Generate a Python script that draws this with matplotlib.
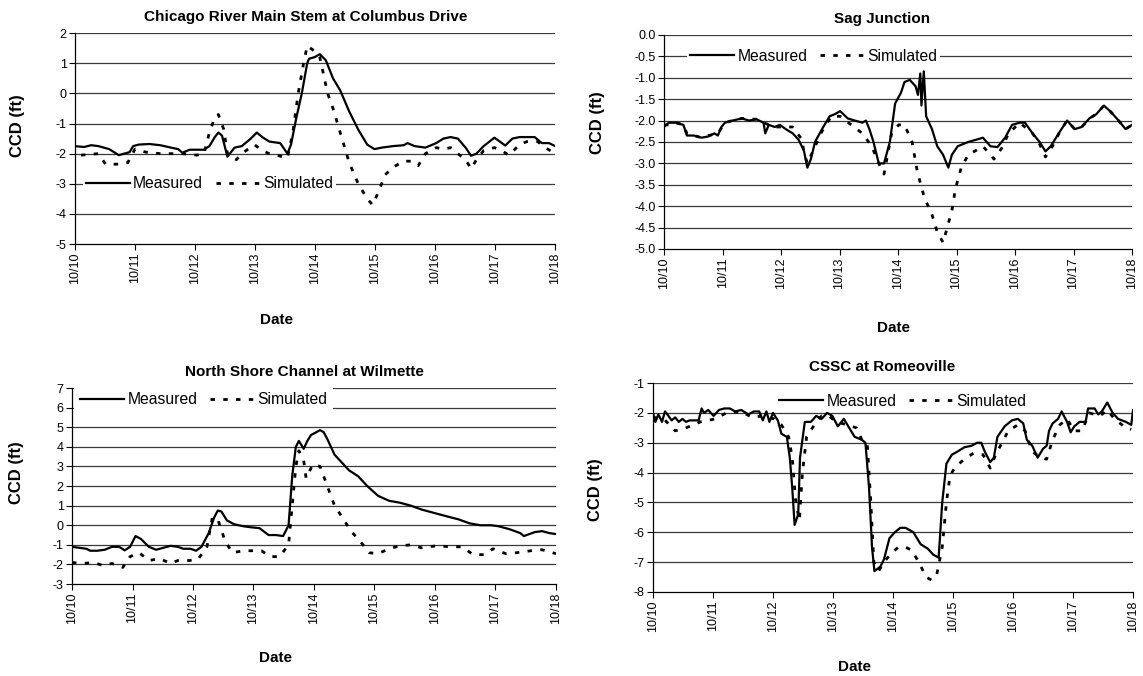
import matplotlib
matplotlib.use("Agg")
import matplotlib.pyplot as plt
from matplotlib.lines import Line2D

plt.rcParams["font.family"] = ["Liberation Sans", "DejaVu Sans"]

# x values are days after 10/10 00:00
date_labels = ["10/10", "10/11", "10/12", "10/13", "10/14", "10/15", "10/16", "10/17", "10/18"]

# --- Chicago River Main Stem at Columbus Drive ---
chi_meas_x = [0.0, 0.15, 0.27, 0.39, 0.57, 0.73, 0.82, 0.91, 0.97, 1.06, 1.24, 1.42, 1.60, 1.72,
              1.79, 1.91, 2.15, 2.24, 2.33, 2.39, 2.45, 2.54, 2.66, 2.78, 2.93, 3.03, 3.12, 3.24,
              3.42, 3.54, 3.60, 3.69, 3.78, 3.87, 3.90, 3.99, 4.08, 4.18, 4.30, 4.42, 4.57, 4.72,
              4.87, 4.99, 5.11, 5.30, 5.48, 5.54, 5.66, 5.84, 6.02, 6.14, 6.26, 6.38, 6.51, 6.60,
              6.69, 6.81, 6.99, 7.17, 7.29, 7.41, 7.53, 7.66, 7.78, 7.90, 8.0]
chi_meas_y = [-1.75, -1.78, -1.72, -1.75, -1.85, -2.05, -2.0, -1.95, -1.75, -1.7, -1.68, -1.72, -1.8,
              -1.85, -1.97, -1.87, -1.87, -1.75, -1.45, -1.3, -1.4, -2.1, -1.8, -1.75, -1.5, -1.3,
              -1.45, -1.6, -1.65, -2.0, -1.7, -0.8, 0.0, 1.0, 1.15, 1.2, 1.3, 1.1, 0.5, 0.1, -0.6,
              -1.2, -1.7, -1.85, -1.8, -1.75, -1.72, -1.65, -1.75, -1.8, -1.65, -1.5, -1.45, -1.5,
              -1.8, -2.07, -2.0, -1.75, -1.47, -1.73, -1.5, -1.45, -1.45, -1.45, -1.65, -1.65, -1.75]
chi_sim_x = [0.10, 0.39, 0.51, 0.70, 0.88, 1.00, 1.18, 1.42, 1.60, 1.79, 2.03, 2.15, 2.24, 2.33,
             2.39, 2.48, 2.54, 2.69, 2.78, 2.99, 3.12, 3.24, 3.36, 3.54, 3.63, 3.72, 3.81, 3.87,
             3.96, 4.08, 4.21, 4.30, 4.42, 4.57, 4.72, 4.87, 4.96, 5.05, 5.17, 5.30, 5.48, 5.60,
             5.72, 5.84, 6.02, 6.14, 6.26, 6.38, 6.51, 6.60, 6.69, 6.81, 6.99, 7.11, 7.23, 7.41,
             7.53, 7.71, 7.84, 8.0]
chi_sim_y = [-2.05, -2.0, -2.35, -2.35, -2.3, -1.85, -1.95, -2.0, -2.0, -2.0, -2.05, -2.0, -1.3,
             -0.8, -0.7, -1.2, -2.0, -2.2, -2.0, -1.7, -1.9, -2.0, -2.05, -2.15, -1.3, 0.0, 1.0,
             1.58, 1.45, 1.2, 0.0, -0.5, -1.3, -2.3, -3.0, -3.5, -3.7, -3.3, -2.7, -2.45, -2.25,
             -2.25, -2.4, -2.0, -1.8, -1.85, -1.8, -2.0, -2.2, -2.5, -2.2, -1.9, -1.8, -1.9, -2.05,
             -1.7, -1.6, -1.6, -1.8, -2.0]

# --- Sag Junction ---
sag_meas_x = [0.0, 0.08, 0.20, 0.33, 0.39, 0.51, 0.64, 0.76, 0.86, 0.92, 0.98, 1.04, 1.17, 1.33,
              1.45, 1.58, 1.70, 1.73, 1.79, 1.89, 1.98, 2.08, 2.20, 2.30, 2.39, 2.45, 2.51, 2.58,
              2.70, 2.83, 2.92, 3.01, 3.14, 3.26, 3.39, 3.45, 3.51, 3.58, 3.67, 3.76, 3.86, 3.95,
              4.05, 4.11, 4.20, 4.30, 4.34, 4.38, 4.40, 4.44, 4.48, 4.58, 4.67, 4.77, 4.86, 4.92,
              5.02, 5.20, 5.33, 5.45, 5.58, 5.70, 5.83, 5.95, 6.08, 6.17, 6.30, 6.42, 6.52, 6.61,
              6.77, 6.89, 7.02, 7.14, 7.27, 7.39, 7.52, 7.64, 7.77, 7.89, 8.0]
sag_meas_y = [-2.15, -2.05, -2.05, -2.1, -2.35, -2.35, -2.4, -2.37, -2.3, -2.35, -2.15, -2.05, -2.0,
              -1.95, -2.0, -1.97, -2.05, -2.3, -2.1, -2.15, -2.1, -2.2, -2.3, -2.45, -2.7, -3.1,
              -2.9, -2.5, -2.2, -1.9, -1.85, -1.78, -1.95, -2.0, -2.05, -2.0, -2.2, -2.5, -3.0,
              -3.0, -2.5, -1.6, -1.35, -1.1, -1.05, -1.2, -1.4, -0.9, -1.65, -0.85, -1.9, -2.2,
              -2.6, -2.8, -3.1, -2.8, -2.6, -2.5, -2.45, -2.4, -2.6, -2.62, -2.4, -2.1, -2.05,
              -2.05, -2.3, -2.5, -2.72, -2.6, -2.25, -2.0, -2.2, -2.15, -1.95, -1.85, -1.65, -1.8,
              -2.0, -2.2, -2.1]
sag_sim_x = [0.0, 0.08, 0.20, 0.33, 0.39, 0.51, 0.64, 0.76, 0.92, 1.04, 1.17, 1.33, 1.58, 1.70,
             1.89, 2.08, 2.20, 2.36, 2.39, 2.45, 2.70, 2.86, 3.01, 3.20, 3.39, 3.55, 3.67, 3.76,
             3.89, 4.01, 4.11, 4.24, 4.33, 4.45, 4.58, 4.67, 4.77, 4.86, 4.92, 4.98, 5.08, 5.20,
             5.33, 5.45, 5.58, 5.64, 5.77, 5.89, 6.08, 6.30, 6.42, 6.52, 6.64, 6.77, 6.89, 7.02,
             7.14, 7.27, 7.39, 7.52, 7.64, 7.77, 7.89, 8.0]
sag_sim_y = [-2.1, -2.1, -2.05, -2.1, -2.3, -2.35, -2.4, -2.35, -2.3, -2.05, -2.0, -1.95, -1.97,
             -2.05, -2.15, -2.15, -2.15, -2.45, -2.75, -3.0, -2.25, -1.9, -1.9, -2.1, -2.3, -2.6,
             -3.0, -3.25, -2.3, -2.1, -2.1, -2.5, -3.2, -3.8, -4.2, -4.6, -4.85, -4.4, -4.1, -3.6,
             -3.1, -2.8, -2.7, -2.6, -2.8, -2.9, -2.65, -2.3, -2.05, -2.3, -2.55, -2.85, -2.6,
             -2.25, -2.0, -2.2, -2.15, -1.95, -1.85, -1.65, -1.8, -2.0, -2.2, -2.1]

# --- North Shore Channel at Wilmette ---
nsc_meas_x = [0.0, 0.12, 0.24, 0.30, 0.42, 0.54, 0.66, 0.78, 0.87, 0.96, 1.05, 1.14, 1.27, 1.39,
              1.51, 1.63, 1.75, 1.84, 1.96, 2.05, 2.14, 2.26, 2.35, 2.41, 2.47, 2.56, 2.68, 2.83,
              2.95, 3.10, 3.25, 3.37, 3.49, 3.58, 3.64, 3.70, 3.75, 3.83, 3.89, 3.95, 4.04, 4.10,
              4.16, 4.22, 4.34, 4.46, 4.58, 4.73, 4.88, 5.06, 5.24, 5.42, 5.60, 5.78, 6.02, 6.20,
              6.39, 6.57, 6.75, 6.93, 7.05, 7.23, 7.41, 7.47, 7.65, 7.77, 7.89, 8.0]
nsc_meas_y = [-1.1, -1.15, -1.2, -1.3, -1.3, -1.25, -1.1, -1.1, -1.28, -1.1, -0.55, -0.7, -1.1,
              -1.25, -1.15, -1.05, -1.1, -1.2, -1.2, -1.3, -1.1, -0.4, 0.4, 0.75, 0.7, 0.25, 0.05,
              -0.05, -0.1, -0.15, -0.5, -0.5, -0.55, 0.0, 2.5, 4.0, 4.3, 3.9, 4.3, 4.6, 4.75, 4.85,
              4.75, 4.4, 3.6, 3.2, 2.8, 2.5, 2.0, 1.5, 1.25, 1.15, 1.0, 0.8, 0.6, 0.45, 0.3, 0.1,
              0.0, 0.0, -0.05, -0.2, -0.4, -0.55, -0.35, -0.3, -0.4, -0.45]
nsc_sim_x = [0.0, 0.18, 0.36, 0.51, 0.66, 0.84, 0.96, 1.11, 1.27, 1.45, 1.63, 1.75, 1.93, 2.08,
             2.23, 2.32, 2.41, 2.53, 2.65, 2.83, 3.01, 3.13, 3.28, 3.43, 3.58, 3.64, 3.70, 3.75,
             3.83, 3.87, 3.98, 4.10, 4.22, 4.34, 4.49, 4.61, 4.76, 4.91, 5.06, 5.24, 5.42, 5.60,
             5.78, 6.02, 6.27, 6.45, 6.63, 6.81, 6.96, 7.17, 7.35, 7.59, 7.77, 8.0]
nsc_sim_y = [-1.9, -1.95, -1.9, -2.05, -1.95, -2.15, -1.6, -1.4, -1.8, -1.7, -1.95, -1.8, -1.8,
             -1.75, -1.1, 0.4, 0.3, -0.8, -1.4, -1.3, -1.3, -1.3, -1.6, -1.6, -1.0, 1.0, 3.0, 3.8,
             3.3, 2.4, 3.1, 3.0, 2.0, 1.0, 0.3, -0.3, -0.8, -1.4, -1.45, -1.2, -1.05, -1.0, -1.15,
             -1.05, -1.1, -1.1, -1.5, -1.5, -1.2, -1.45, -1.4, -1.3, -1.25, -1.45]

# --- CSSC at Romeoville ---
cssc_meas_x = [0.0, 0.04, 0.09, 0.15, 0.20, 0.24, 0.31, 0.37, 0.43, 0.49, 0.55, 0.61, 0.76, 0.81,
               0.85, 0.92, 1.01, 1.10, 1.19, 1.28, 1.37, 1.47, 1.59, 1.68, 1.77, 1.83, 1.89, 1.94,
               2.00, 2.08, 2.14, 2.23, 2.28, 2.32, 2.36, 2.42, 2.45, 2.53, 2.63, 2.72, 2.81, 2.90,
               2.99, 3.08, 3.18, 3.27, 3.36, 3.48, 3.54, 3.60, 3.65, 3.69, 3.79, 3.85, 3.94, 4.03,
               4.12, 4.21, 4.34, 4.46, 4.58, 4.67, 4.76, 4.82, 4.89, 4.98, 5.07, 5.19, 5.31, 5.40,
               5.47, 5.53, 5.62, 5.68, 5.74, 5.86, 5.98, 6.08, 6.17, 6.23, 6.32, 6.41, 6.50, 6.56,
               6.60, 6.66, 6.75, 6.81, 6.90, 6.96, 7.02, 7.11, 7.21, 7.25, 7.36, 7.42, 7.48, 7.57,
               7.66, 7.75, 7.88, 7.97, 8.0]
cssc_meas_y = [-2.0, -2.3, -2.05, -2.3, -1.95, -2.05, -2.25, -2.15, -2.3, -2.2, -2.3, -2.25, -2.25,
               -1.85, -2.0, -1.9, -2.1, -1.9, -1.85, -1.85, -1.95, -1.9, -2.05, -1.95, -1.95,
               -2.25, -1.95, -2.3, -2.0, -2.25, -2.7, -2.8, -3.5, -4.5, -5.75, -5.4, -3.5, -2.3,
               -2.3, -2.1, -2.2, -2.0, -2.1, -2.45, -2.2, -2.5, -2.8, -2.9, -3.0, -4.5, -6.5, -7.3,
               -7.15, -6.9, -6.2, -6.0, -5.85, -5.85, -6.0, -6.4, -6.55, -6.75, -6.85, -5.0, -3.7,
               -3.4, -3.3, -3.15, -3.1, -3.0, -3.0, -3.3, -3.65, -3.5, -2.8, -2.45, -2.25, -2.2,
               -2.35, -2.9, -3.1, -3.5, -3.2, -3.1, -2.6, -2.35, -2.2, -1.95, -2.3, -2.65, -2.45,
               -2.3, -2.3, -1.85, -1.85, -2.05, -1.95, -1.65, -2.0, -2.2, -2.3, -2.4, -1.9]
cssc_sim_x = [0.0, 0.18, 0.37, 0.55, 0.79, 1.04, 1.22, 1.47, 1.65, 1.83, 2.02, 2.14, 2.26, 2.32,
              2.38, 2.44, 2.49, 2.56, 2.69, 2.81, 2.93, 3.05, 3.24, 3.39, 3.48, 3.57, 3.63, 3.68,
              3.76, 3.85, 3.97, 4.09, 4.21, 4.31, 4.43, 4.55, 4.64, 4.73, 4.82, 4.89, 4.95, 5.04,
              5.19, 5.34, 5.50, 5.62, 5.71, 5.83, 5.92, 6.08, 6.20, 6.32, 6.47, 6.56, 6.66, 6.78,
              6.90, 7.02, 7.15, 7.27, 7.45, 7.57, 7.69, 7.88, 7.97]
cssc_sim_y = [-2.15, -2.2, -2.6, -2.5, -2.3, -2.2, -2.0, -1.95, -2.15, -2.1, -2.2, -2.4, -2.8, -3.5,
              -5.0, -5.6, -4.0, -2.8, -2.4, -2.1, -2.1, -2.3, -2.4, -2.5, -2.9, -3.0, -5.0, -7.0,
              -7.3, -7.0, -6.7, -6.5, -6.5, -6.6, -7.0, -7.5, -7.6, -7.4, -6.5, -5.0, -4.1, -3.8,
              -3.55, -3.35, -3.4, -3.85, -3.4, -2.95, -2.6, -2.4, -2.6, -3.3, -3.5, -3.55, -2.9,
              -2.4, -2.2, -2.6, -2.6, -2.0, -2.1, -1.9, -2.2, -2.5, -2.55]

panels = [
    # title, measured x/y, simulated x/y, y ticks, tick format, axes rect, legend center,
    # legend pad, ylabel pos, xlabel pos, title x
    ("Chicago River Main Stem at Columbus Drive", chi_meas_x, chi_meas_y, chi_sim_x, chi_sim_y,
     [-5, -4, -3, -2, -1, 0, 1, 2], "{:.0f}", [0.0656, 0.639, 0.420, 0.312],
     (0.28, 0.286), 0.2, (-0.119, 0.56), (0.42, -0.36), 0.48),
    ("Sag Junction", sag_meas_x, sag_meas_y, sag_sim_x, sag_sim_y,
     [-5.0, -4.5, -4.0, -3.5, -3.0, -2.5, -2.0, -1.5, -1.0, -0.5, 0.0], "{:.1f}",
     [0.581, 0.6317, 0.4094, 0.3166], (0.32, 0.90), 0.2, (-0.143, 0.59), (0.49, -0.37), 0.466),
    ("North Shore Channel at Wilmette", nsc_meas_x, nsc_meas_y, nsc_sim_x, nsc_sim_y,
     [-3, -2, -1, 0, 1, 2, 3, 4, 5, 6, 7], "{:.0f}", [0.063, 0.136, 0.4234, 0.290],
     (0.272, 0.94), 0.4, (-0.114, 0.57), (0.42, -0.378), 0.48),
    ("CSSC at Romeoville", cssc_meas_x, cssc_meas_y, cssc_sim_x, cssc_sim_y,
     [-8, -7, -6, -5, -4, -3, -2, -1], "{:.0f}", [0.5713, 0.1243, 0.420, 0.309],
     (0.52, 0.912), 0.05, (-0.119, 0.49), (0.42, -0.36), 0.477),
]

dot_style = (0, (1.6, 3.0))

fig = plt.figure(figsize=(11.43, 6.76), dpi=100)

for (title, mx, my, sx, sy, yticks, fmt, rect, leg_c, leg_pad,
     ylab_c, xlab_c, title_x) in panels:
    ax = fig.add_axes(rect)
    ax.plot(mx, my, color="black", lw=1.6, solid_joinstyle="round", zorder=3)
    ax.plot(sx, sy, color="black", lw=2.0, linestyle=dot_style, zorder=3)

    ax.set_xlim(0, 8)
    ax.set_ylim(yticks[0], yticks[-1])
    ax.set_xticks(range(9))
    ax.set_xticklabels(date_labels, rotation=90, fontsize=9)
    ax.set_yticks(yticks)
    ax.set_yticklabels([fmt.format(v) for v in yticks], fontsize=9)
    ax.tick_params(direction="out", length=4, width=0.8, pad=2)

    for v in yticks[1:]:
        ax.axhline(v, color="#3a3a3a", lw=0.9, zorder=1)

    for side in ("top", "right"):
        ax.spines[side].set_visible(False)
    for side in ("left", "bottom"):
        ax.spines[side].set_linewidth(0.9)
        ax.spines[side].set_zorder(4)

    ax.text(title_x, 1 + 16 / (rect[3] * 676), title, transform=ax.transAxes,
            ha="center", va="center", fontsize=11, fontweight="bold")
    ax.set_ylabel("CCD (ft)", fontsize=12, fontweight="bold", va="center")
    ax.yaxis.set_label_coords(*ylab_c)
    ax.set_xlabel("Date", fontsize=11, fontweight="bold", va="center")
    ax.xaxis.set_label_coords(*xlab_c)

    handles = [Line2D([], [], color="black", lw=1.6),
               Line2D([], [], color="black", lw=2.0, linestyle=dot_style)]
    leg = ax.legend(handles, ["Measured", "Simulated"], loc="center",
                    bbox_to_anchor=leg_c, ncol=2, fontsize=11.3, frameon=True,
                    handlelength=2.8, handletextpad=0.2, columnspacing=0.8,
                    borderpad=leg_pad, borderaxespad=0)
    leg.get_frame().set_facecolor("white")
    leg.get_frame().set_edgecolor("none")
    leg.get_frame().set_alpha(1.0)
    leg.get_frame().set_boxstyle("square", pad=0)
    # keep the legend box under the axis spine but over the gridlines
    leg.set_zorder(2.2)

fig.savefig("out.png", dpi=100, facecolor="white")
